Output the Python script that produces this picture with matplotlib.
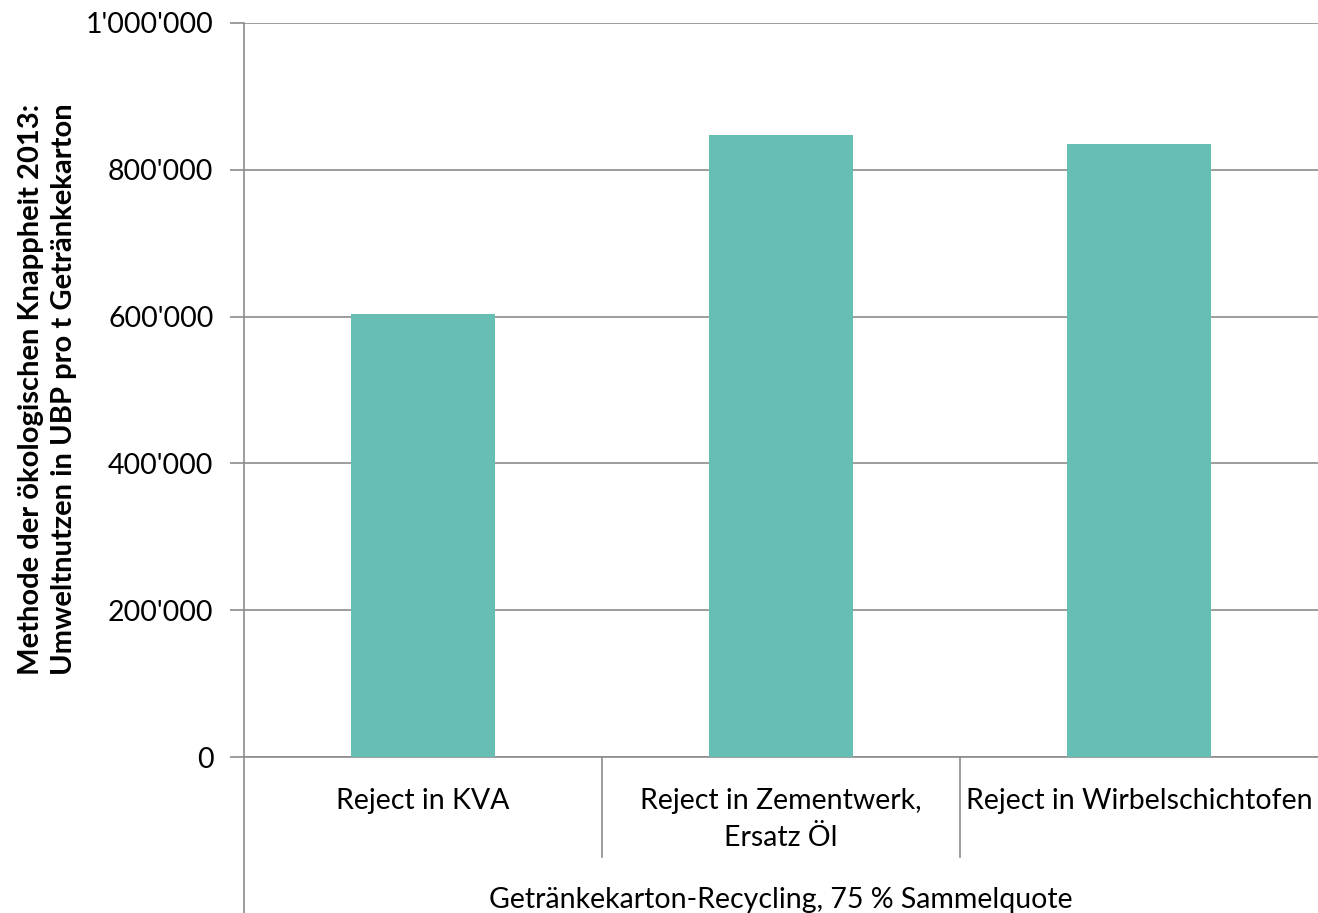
import matplotlib.pyplot as plt
from matplotlib.ticker import FuncFormatter
import matplotlib.transforms as mtransforms

plt.rcParams['font.family'] = ['Lato', 'DejaVu Sans']

categories = ['Reject in KVA', 'Reject in Zementwerk,\nErsatz Öl', 'Reject in Wirbelschichtofen']
values = [603000, 847500, 835000]
group_label = 'Getränkekarton-Recycling, 75 % Sammelquote'
y_ticks = [0, 200000, 400000, 600000, 800000, 1000000]

grid_col = '#8c8c8c'


def swiss(v, pos):
    # Tausendertrennzeichen als Apostroph
    return f'{int(v):,}'.replace(',', "'")


fig = plt.figure(figsize=(13.18, 9.13), dpi=100)
ax = fig.add_axes([244 / 1318, 1 - 757.3 / 913, 1 - 244 / 1318, 734.6 / 913])

x = range(len(categories))
ax.bar(x, values, width=0.4, color='#67bfb3', zorder=3)

ax.set_xlim(-0.5, len(categories) - 0.5)
ax.set_ylim(0, 1000000)
ax.set_yticks(y_ticks)
ax.yaxis.set_major_formatter(FuncFormatter(swiss))
ax.tick_params(axis='y', labelsize=20.5, length=10, width=1.2, color=grid_col, pad=12)
ax.tick_params(axis='x', length=0, labelbottom=False)
ax.grid(axis='y', color=grid_col, linewidth=1.2, zorder=0)

for s in ['top', 'right', 'left']:
    ax.spines[s].set_visible(False)
ax.spines['bottom'].set_color(grid_col)
ax.spines['bottom'].set_linewidth(1.2)

# linke Achse reicht bis unter die Gruppenbeschriftung
trans = mtransforms.blended_transform_factory(ax.transData, ax.transAxes)
ax.plot([-0.5, -0.5], [1, -0.215], transform=trans, color=grid_col, lw=1.2, clip_on=False)
# Trennlinien zwischen den Kategorien
for b in [0.5, 1.5]:
    ax.plot([b, b], [0, -0.136], transform=trans, color=grid_col, lw=1.2, clip_on=False)

for i, c in enumerate(categories):
    ax.text(i, -0.042, c, transform=trans, ha='center', va='top', fontsize=20.5, linespacing=1.5)
ax.text(1, -0.176, group_label, transform=trans, ha='center', va='top', fontsize=20.5)

fig.text(0.036, 1 - 389 / 913,
         'Methode der ökologischen Knappheit 2013:\nUmweltnutzen in UBP pro t Getränkekarton',
         rotation=90, ha='center', va='center', fontsize=21, fontweight='bold', linespacing=1.35)

plt.savefig('out.png', dpi=100)
